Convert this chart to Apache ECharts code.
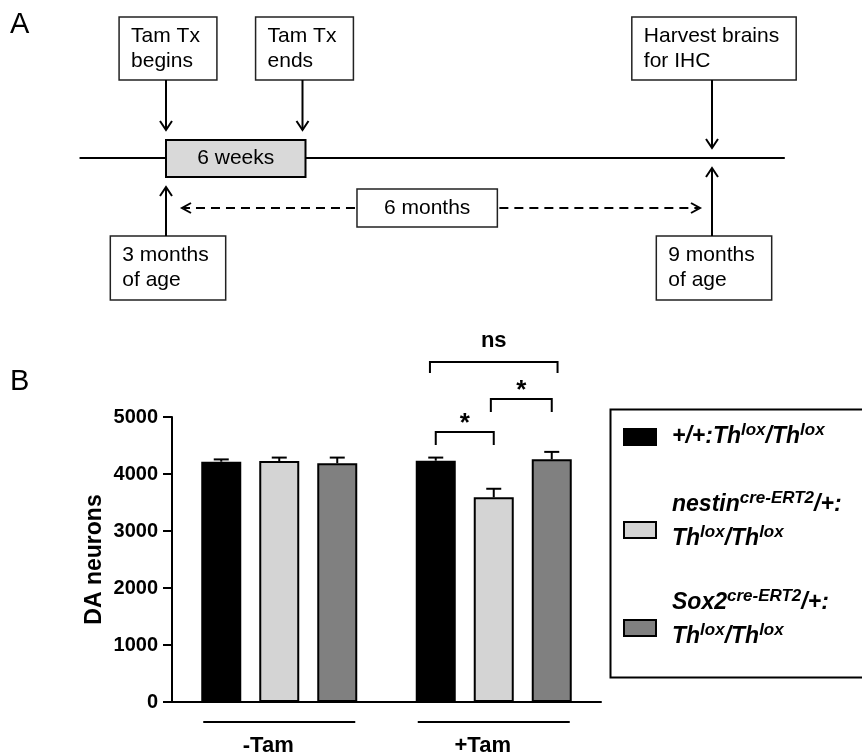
<!DOCTYPE html>
<html><head><meta charset="utf-8">
<script src="https://cdn.jsdelivr.net/npm/echarts@6/dist/echarts.min.js"></script>
<style>html,body{margin:0;padding:0;background:#fff}#c{width:862px;height:756px}</style>
</head><body><div id="c"></div>
<script>
// ---------------- Panel B data ----------------
const groups = ['-Tam', '+Tam'];
const seriesNames = [
  '+/+:Th^{lox}/Th^{lox}',
  'nestin^{cre-ERT2}/+:\nTh^{lox}/Th^{lox}',
  'Sox2^{cre-ERT2}/+:\nTh^{lox}/Th^{lox}'
];
const wtMean = [4216, 4233];
const wtSem = [40, 55];
const nestinMean = [4228, 3591];
const nestinSem = [60, 150];
const sox2Mean = [4188, 4258];
const sox2Sem = [100, 130];
const yMin = 0, yMax = 5000, yStep = 1000;
// significance brackets (group index, from/to bar slot, height in neurons, label)
const sigGroup = [1, 1, 1];
const sigFrom = [-1.1, -1, -0.05];
const sigTo = [1.1, 0, 1];
const sigY = [5965, 4737, 5316];
const sigLabel = ['ns', '*', '*'];

// ---------------- Panel A data ----------------
const timelineMonths = [2.05, 9.8];
const txMonths = [3, 4.5];
const txLabel = '6 weeks';
const topEventMonths = [3, 4.5, 9];
const topEventLabels = ['Tam Tx\nbegins', 'Tam Tx\nends', 'Harvest brains\nfor IHC'];
const bottomEventMonths = [3, 9];
const bottomEventLabels = ['3 months\nof age', '9 months\nof age'];
const spanMonths = [3, 9];
const spanLabel = '6 months';
const spanLabelAt = 5.87;

// ---------------- helpers ----------------
const FF = '"Liberation Sans", Arial, sans-serif';
const mctx = document.createElement('canvas').getContext('2d');
function measure(text, size) {
  mctx.font = size + 'px ' + FF;
  return Math.max.apply(null, text.split('\n').map(t => mctx.measureText(t).width));
}
function toRich(name) {
  return '{m|' + name.replace(/\^\{([^}]*)\}/g, '}{s|$1}{m|').replace(/\n/g, '}\n{m|') + '}';
}
const BLK = '#000';
function head(x, y, dir) { // dir: +1 down, -1 up, 'l' left, 'r' right
  let pts;
  if (dir === 1) pts = [[x - 6, y - 9], [x, y], [x + 6, y - 9]];
  else if (dir === -1) pts = [[x - 6, y + 9], [x, y], [x + 6, y + 9]];
  else if (dir === 'l') pts = [[x + 9, y - 5], [x, y], [x + 9, y + 5]];
  else pts = [[x - 9, y - 5], [x, y], [x - 9, y + 5]];
  return { type: 'polyline', shape: { points: pts }, style: { stroke: BLK, lineWidth: 2, fill: null } };
}
const FS_A = 21;
const barWidth = 40, barGapRatio = 0.45;
const slot = barWidth * (1 + barGapRatio);
const colors = ['#000000', '#d4d4d4', '#808080'];
const means = [wtMean, nestinMean, sox2Mean];
const sems = [wtSem, nestinSem, sox2Sem];

const chart = echarts.init(document.getElementById('c'), null, { renderer: 'canvas' });

const series = [];
means.forEach((m, s) => {
  series.push({
    name: seriesNames[s], type: 'bar', xAxisIndex: 0, yAxisIndex: 0,
    data: m, barWidth: barWidth, barGap: (barGapRatio * 100) + '%',
    itemStyle: { color: colors[s], borderColor: BLK, borderWidth: 2 },
    emphasis: { disabled: true }, z: 2
  });
});
means.forEach((m, s) => {
  series.push({
    name: 'err' + s, type: 'custom', xAxisIndex: 0, yAxisIndex: 0, z: 3,
    data: groups.map((g, i) => [i, m[i], sems[s][i]]),
    renderItem: (params, api) => {
      const base = api.coord([api.value(0), api.value(1)]);
      const top = api.coord([api.value(0), api.value(1) + api.value(2)]);
      const x = base[0] + (s - 1) * slot;
      return { type: 'group', children: [
        { type: 'line', shape: { x1: x, y1: base[1], x2: x, y2: top[1] }, style: { stroke: BLK, lineWidth: 2 } },
        { type: 'line', shape: { x1: x - 7.5, y1: top[1], x2: x + 7.5, y2: top[1] }, style: { stroke: BLK, lineWidth: 2 } }
      ]};
    }
  });
});
// significance brackets
series.push({
  name: 'sig', type: 'custom', xAxisIndex: 0, yAxisIndex: 0, clip: false, z: 4,
  data: sigGroup.map((g, i) => [g, sigY[i]]),
  renderItem: (params, api) => {
    const i = params.dataIndex;
    const p = api.coord([api.value(0), api.value(1)]);
    const x1 = p[0] + sigFrom[i] * slot, x2 = p[0] + sigTo[i] * slot;
    const leg = sigLabel[i] === 'ns' ? 11 : 13;
    const isStar = sigLabel[i] === '*';
    return { type: 'group', children: [
      { type: 'polyline', shape: { points: [[x1, p[1] + leg], [x1, p[1]], [x2, p[1]], [x2, p[1] + leg]] },
        style: { stroke: BLK, lineWidth: 2, fill: null } },
      { type: 'text', style: { text: sigLabel[i], x: (x1 + x2) / 2, y: p[1] - (isStar ? 8 : 21),
        align: 'center', verticalAlign: 'middle', fill: BLK,
        font: 'bold ' + (isStar ? 26 : 22) + 'px ' + FF } }
    ]};
  }
});
// group underline
series.push({
  name: 'grp', type: 'custom', xAxisIndex: 0, yAxisIndex: 0, clip: false,
  data: groups.map((g, i) => [i, 0]),
  renderItem: (params, api) => {
    const p = api.coord([api.value(0), 0]);
    const h = slot + barWidth / 2 - 2;
    return { type: 'line', shape: { x1: p[0] - h, y1: p[1] + 20, x2: p[0] + h, y2: p[1] + 20 },
      style: { stroke: BLK, lineWidth: 2 } };
  }
});
// ---------- Panel A ----------
series.push({
  name: 'timeline', type: 'custom', xAxisIndex: 1, yAxisIndex: 1, clip: false, z: 1,
  data: [[txMonths[0], 1]],
  renderItem: (params, api) => {
    const p0 = api.coord([timelineMonths[0], 1]), p1 = api.coord([timelineMonths[1], 1]);
    const a = api.coord([txMonths[0], 1]), b = api.coord([txMonths[1], 1]);
    const y = p0[1];
    return { type: 'group', children: [
      { type: 'line', shape: { x1: p0[0], y1: y, x2: p1[0], y2: y }, style: { stroke: BLK, lineWidth: 2 } },
      { type: 'rect', shape: { x: a[0], y: y - 18, width: b[0] - a[0] + 3, height: 37 },
        style: { fill: '#d9d9d9', stroke: BLK, lineWidth: 2 } },
      { type: 'text', style: { text: txLabel, x: (a[0] + b[0] + 3) / 2, y: y, align: 'center', verticalAlign: 'middle',
        fill: BLK, font: FS_A + 'px ' + FF } }
    ]};
  }
});
function inTx(m) { return m >= txMonths[0] && m <= txMonths[1]; }
function boxWithText(label, cx, top, h, padL, padR) {
  const w = measure(label, FS_A) + padL + padR;
  const left = cx - w / 2;
  return [
    { type: 'rect', shape: { x: left, y: top, width: w, height: h }, style: { fill: '#fff', stroke: '#222', lineWidth: 1.5 } },
    { type: 'text', style: { text: label, x: left + padL, y: top + h / 2, align: 'left', verticalAlign: 'middle',
      lineHeight: 25, fill: BLK, font: FS_A + 'px ' + FF } }
  ];
}
series.push({
  name: 'topEvents', type: 'custom', xAxisIndex: 1, yAxisIndex: 1, clip: false, z: 2,
  data: topEventMonths.map(m => [m, 1]),
  renderItem: (params, api) => {
    const i = params.dataIndex, m = api.value(0);
    const p = api.coord([m, 1]);
    const tip = p[1] - (inTx(m) ? 18 : 0) - 10;
    const ch = boxWithText(topEventLabels[i], p[0] + 2, p[1] - 141, 63, 12, 17);
    ch.push({ type: 'line', shape: { x1: p[0], y1: p[1] - 78, x2: p[0], y2: tip }, style: { stroke: BLK, lineWidth: 2 } });
    ch.push(head(p[0], tip, 1));
    return { type: 'group', children: ch };
  }
});
series.push({
  name: 'bottomEvents', type: 'custom', xAxisIndex: 1, yAxisIndex: 1, clip: false, z: 2,
  data: bottomEventMonths.map(m => [m, 1]),
  renderItem: (params, api) => {
    const i = params.dataIndex, m = api.value(0);
    const p = api.coord([m, 1]);
    const tip = p[1] + (inTx(m) ? 19 : 0) + 10;
    const ch = boxWithText(bottomEventLabels[i], p[0] + 2, p[1] + 78, 64, 12, 17);
    ch.push({ type: 'line', shape: { x1: p[0], y1: p[1] + 78, x2: p[0], y2: tip }, style: { stroke: BLK, lineWidth: 2 } });
    ch.push(head(p[0], tip, -1));
    return { type: 'group', children: ch };
  }
});
series.push({
  name: 'span', type: 'custom', xAxisIndex: 1, yAxisIndex: 1, clip: false, z: 2,
  data: [[spanLabelAt, 1]],
  renderItem: (params, api) => {
    const c = api.coord([api.value(0), 1]);
    const a = api.coord([spanMonths[0], 1]), b = api.coord([spanMonths[1], 1]);
    const w = measure(spanLabel, FS_A) + 54;
    const y = c[1] + 50;
    const l = c[0] - w / 2, r = c[0] + w / 2;
    const la = a[0] + 16, rb = b[0] - 12;
    return { type: 'group', children: [
      { type: 'rect', shape: { x: l, y: c[1] + 31, width: w, height: 38 }, style: { fill: '#fff', stroke: '#222', lineWidth: 1.5 } },
      { type: 'text', style: { text: spanLabel, x: c[0], y: y, align: 'center', verticalAlign: 'middle', fill: BLK, font: FS_A + 'px ' + FF } },
      { type: 'line', shape: { x1: l - 2, y1: y, x2: la + 2, y2: y }, style: { stroke: BLK, lineWidth: 2, lineDash: [9, 6] } },
      { type: 'line', shape: { x1: r + 2, y1: y, x2: rb - 2, y2: y }, style: { stroke: BLK, lineWidth: 2, lineDash: [9, 6] } },
      head(la, y, 'l'), head(rb, y, 'r')
    ]};
  }
});

const richStyles = {
  m: { fontFamily: FF, fontWeight: 'bold', fontStyle: 'italic', fontSize: 23, lineHeight: 34, color: BLK },
  s: { fontFamily: FF, fontWeight: 'bold', fontStyle: 'italic', fontSize: 17, verticalAlign: 'top', padding: [2, 0, 0, 0], color: BLK }
};
const legendTops = [422, 490, 588];
const legends = seriesNames.map((n, i) => ({
  data: [n], orient: 'vertical', left: 623, top: legendTops[i], padding: 0, itemGap: 0,
  selectedMode: false, icon: 'rect', itemWidth: 32, itemHeight: 16,
  itemStyle: { borderColor: BLK, borderWidth: 2 },
  formatter: name => toRich(name),
  textStyle: { rich: richStyles, padding: i === 0 ? [0, 0, 0, 11] : [0, 0, 16, 11] }
}));

const option = {
  animation: false,
  backgroundColor: '#fff',
  title: [
    { text: 'A', left: 10, top: 10, padding: 0, textStyle: { fontSize: 29, fontWeight: 'normal', fontFamily: FF, color: BLK } },
    { text: 'B', left: 10, top: 367, padding: 0, textStyle: { fontSize: 29, fontWeight: 'normal', fontFamily: FF, color: BLK } }
  ],
  legend: legends,
  graphic: [
    { type: 'rect', left: 608, top: 407, shape: { width: 270, height: 268 }, style: { fill: null, stroke: BLK, lineWidth: 2 }, z: 0 }
  ],
  grid: [
    { left: 172, right: 261, top: 417, bottom: 54, containLabel: false, outerBoundsMode: 'none' },
    { left: 166, width: 546, top: 158, height: 100, containLabel: false, outerBoundsMode: 'none' }
  ],
  xAxis: [
    { gridIndex: 0, type: 'category', data: groups,
      axisLine: { lineStyle: { color: BLK, width: 2 } }, axisTick: { show: false },
      axisLabel: { margin: 33, color: BLK, fontFamily: FF, fontWeight: 'bold', fontSize: 22, padding: [0, 22, 0, 0] },
      splitLine: { show: false } },
    { gridIndex: 1, type: 'value', min: 3, max: 9, show: false }
  ],
  yAxis: [
    { gridIndex: 0, type: 'value', min: yMin, max: yMax, interval: yStep,
      name: 'DA neurons', nameLocation: 'middle', nameGap: 66, nameRotate: 90,
      nameTextStyle: { color: BLK, fontFamily: FF, fontWeight: 'bold', fontSize: 23 },
      axisLine: { show: true, lineStyle: { color: BLK, width: 2 } },
      axisTick: { show: true, length: 9, lineStyle: { color: BLK, width: 2 } },
      axisLabel: { margin: 14, color: BLK, fontFamily: FF, fontWeight: 'bold', fontSize: 20, formatter: v => String(v) },
      splitLine: { show: false } },
    { gridIndex: 1, type: 'value', min: 0, max: 1, show: false }
  ],
  series: series
};
chart.setOption(option);
</script></body></html>
